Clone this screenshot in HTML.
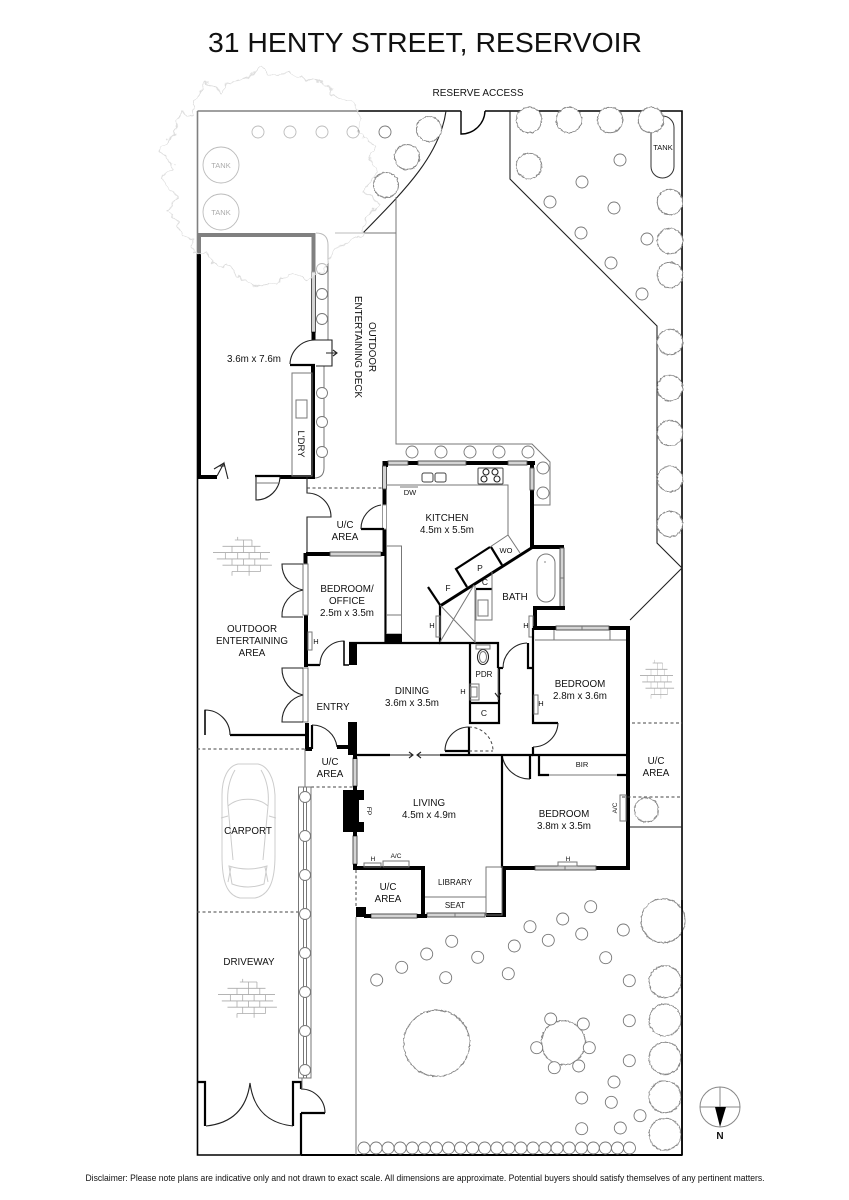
<!DOCTYPE html>
<html><head><meta charset="utf-8"><style>
html,body{margin:0;padding:0;background:#fff}
svg{display:block}
text{font-family:"Liberation Sans",sans-serif;fill:#111;text-anchor:middle}
.l{font-size:9.8px}.s{font-size:7.5px}.m{font-size:8.5px}
.t{fill:none;stroke:#222;stroke-width:1.1}
.g{fill:none;stroke:#777;stroke-width:1}
.k{fill:none;stroke:#000;stroke-width:2.2}
.w{fill:none;stroke:#000;stroke-width:4}
.d{fill:none;stroke:#444;stroke-width:1;stroke-dasharray:3 2.5}
.win{fill:#d4d4d4;stroke:#444;stroke-width:.9}
.c{fill:#fff;stroke:#777;stroke-width:.9}
.tr{fill:#fff;stroke:#888;stroke-width:1;filter:url(#rough)}
.b{fill:none;stroke:#aaa;stroke-width:.8}
.car{fill:none;stroke:#ccc;stroke-width:1}
</style></head><body>
<svg width="849" height="1200" viewBox="0 0 849 1200" xmlns="http://www.w3.org/2000/svg">
<defs>
<filter id="rough" x="-20%" y="-20%" width="140%" height="140%"><feTurbulence type="fractalNoise" baseFrequency="0.35" numOctaves="2" seed="3" result="n"/><feDisplacementMap in="SourceGraphic" in2="n" scale="2.4" xChannelSelector="R" yChannelSelector="G"/></filter>
<filter id="rough2" x="-10%" y="-10%" width="120%" height="120%"><feTurbulence type="fractalNoise" baseFrequency="0.12" numOctaves="2" seed="5" result="n"/><feDisplacementMap in="SourceGraphic" in2="n" scale="9" xChannelSelector="R" yChannelSelector="G"/></filter>
<g id="brick">
<path class="b" d="M23 0H41M10 6H50M0 12H60M4 18H58M10 24H62M20 30H50M26-3V0M32 0V6M41 0V6M20 6V12M32 6V12M44 6V12M13 12V18M26 12V18M38 12V18M50 12V18M20 18V24M32 18V24M44 18V24M26 24V30M38 24V30M50 24V30M20 30V34M38 30V34"/>
</g>
</defs>

<text x="425" y="52" style="font-size:28px" textLength="434" lengthAdjust="spacingAndGlyphs">31 HENTY STREET, RESERVOIR</text>
<text x="478" y="96" class="l" style="font-size:10px" textLength="91" lengthAdjust="spacingAndGlyphs">RESERVE ACCESS</text>

<!-- site -->
<path d="M197.5 111V1155H301M301 1155H682V111H485M461 111H197.5" fill="none" stroke="#000" stroke-width="1.6"/>
<path d="M301 1155H682" fill="none" stroke="#000" stroke-width="2"/>
<path class="k" d="M461 111V134A24 24 0 0 0 485 111" style="stroke-width:1.4"/>

<!-- zones -->
<path class="t" d="M510 111V179L657 326V543L682 568L630 620"/>
<path class="t" d="M446 111C440 155 405 190 363 233"/>
<path class="g" d="M396 197V444H532L550 462V505H533"/>
<path class="g" d="M335 233H396"/>

<!-- top-left circles -->
<g>
<circle class="c" cx="258" cy="132" r="6"/><circle class="c" cx="290" cy="132" r="6"/><circle class="c" cx="322" cy="132" r="6"/><circle class="c" cx="353" cy="132" r="6"/><circle class="c" cx="385" cy="132" r="6"/>
<circle class="tr" cx="429" cy="129" r="12.5"/><circle class="tr" cx="407" cy="157" r="12.5"/><circle class="tr" cx="386" cy="185" r="12.5"/>
<circle class="c" cx="221" cy="165" r="18"/><circle class="c" cx="221" cy="212" r="18"/>
</g>
<text x="221" y="168" class="s" style="fill:#555">TANK</text>
<text x="221" y="215" class="s" style="fill:#555">TANK</text>

<!-- top-right garden -->
<rect x="651" y="116" width="23" height="62" rx="11.5" fill="#fff" stroke="#333" stroke-width="1"/>
<text x="663" y="150" class="s">TANK</text>
<g>
<circle class="tr" cx="529" cy="120" r="12.7"/><circle class="tr" cx="569" cy="120" r="12.7"/><circle class="tr" cx="610" cy="120" r="12.7"/><circle class="tr" cx="651" cy="120" r="12.7"/><circle class="tr" cx="529" cy="166" r="12.7"/><circle class="tr" cx="670" cy="202" r="12.7"/><circle class="tr" cx="670" cy="241" r="12.7"/><circle class="tr" cx="670" cy="275" r="12.7"/>
<circle class="c" cx="620" cy="160" r="6"/><circle class="c" cx="582" cy="182" r="6"/><circle class="c" cx="550" cy="202" r="6"/><circle class="c" cx="614" cy="208" r="6"/><circle class="c" cx="581" cy="233" r="6"/><circle class="c" cx="647" cy="239" r="6"/><circle class="c" cx="611" cy="263" r="6"/><circle class="c" cx="642" cy="294" r="6"/>
<circle class="tr" cx="670" cy="342" r="12.7"/><circle class="tr" cx="670" cy="388" r="12.7"/><circle class="tr" cx="670" cy="433" r="12.7"/><circle class="tr" cx="670" cy="479" r="12.7"/><circle class="tr" cx="670" cy="524" r="12.7"/>
</g>

<!-- deck planter -->
<path class="g" d="M316 233Q328 233 328 245V340M324 366V468Q324 478 314 478"/>
<circle class="c" cx="322" cy="269" r="5.5"/><circle class="c" cx="322" cy="294" r="5.5"/><circle class="c" cx="322" cy="319" r="5.5"/>
<circle class="c" cx="322" cy="393" r="5.5"/><circle class="c" cx="322" cy="422" r="5.5"/><circle class="c" cx="322" cy="452" r="5.5"/>

<!-- left room walls -->
<path d="M199 253V477H217" class="w"/>
<path d="M199 235V253M197 235H315.500M313.500 233V272" fill="none" stroke="#000" stroke-width="4"/>
<rect x="311.500" y="272" width="4" height="60" class="win"/>
<path d="M313.500 332V340" class="w"/>
<path class="k" d="M290 365H315"/><path class="w" d="M313 364V479M280 477H315"/>
<path class="t" d="M290 364A25 25 0 0 1 315 340H332V366H316"/>
<path class="t" d="M326 353H337M333 350L337 353L333 356"/>
<rect x="292" y="373" width="20" height="103" class="g"/>
<rect x="296" y="400" width="11" height="18" class="g"/>
<text transform="translate(298,444) rotate(90)" class="m" style="font-size:9.5px">L'DRY</text>
<path class="t" d="M214 469L224 463M217 476L224 463L228 479M219 466H225"/>
<path class="k" d="M255 476H280"/>
<path class="t" d="M256 476V500A24 24 0 0 0 280 477"/>
<path class="g" d="M256 483H280"/>

<!-- big tree overlay -->
<g style="filter:url(#rough2)">
<path transform="translate(150,60) scale(.3333)" d="M130 130L165 65L215 95L225 70L280 60L335 20L355 45L420 40L480 60L520 70L560 110L610 130L635 175L625 220L680 260L660 290L680 340L640 400L690 430L650 470L640 520L610 540L560 560L520 630L470 660L420 640L380 670L330 680L280 660L240 620L190 610L170 575L130 580L130 540L100 530L80 480L50 450L85 410L30 355L70 320L30 270L70 225L95 160L135 170Z" fill="#fff" fill-opacity=".5" stroke="#ddd" stroke-width="3" stroke-linejoin="round"/>
</g>

<!-- labels upper -->
<text x="254" y="362" class="l">3.6m x 7.6m</text>
<text transform="translate(369,347) rotate(90)" class="l">OUTDOOR</text>
<text transform="translate(355,347) rotate(90)" class="l">ENTERTAINING DECK</text>

<!-- U/C upper -->
<path class="t" d="M307 477V493A24 24 0 0 1 331 517H307V553"/>
<path class="d" d="M307 488H383"/>
<path class="w" d="M384.500 461V467M384.500 488V505M384.500 529V553"/>
<rect x="382.500" y="466" width="4" height="23" class="win"/>
<rect x="382.500" y="505" width="4" height="24" class="g" style="stroke:#999"/>
<path class="k" d="M361 529H384"/><path class="t" d="M361 529A24 24 0 0 1 381 505"/>
<path class="w" d="M306 554H330"/><rect x="330" y="552" width="51" height="4" class="win"/>
<path class="w" d="M381 554H387"/>
<text x="345" y="528" class="l">U/C</text><text x="345" y="540" class="l">AREA</text>

<!-- brick -->
<use href="#brick" transform="translate(213,540) scale(.95,1.05)"/>
<use href="#brick" transform="translate(640,663) scale(.55,1.05)"/>
<use href="#brick" transform="translate(218,982) scale(.95,1.05)"/>

<!-- office -->
<path class="w" d="M305.500 553V564M306 615V667"/>
<path class="k" d="M385.500 553V643"/>
<rect x="303" y="564" width="5" height="51" fill="#fff" class="g"/>
<path class="t" d="M303 564H282A26 26 0 0 0 303 590A26 26 0 0 0 282 617H303"/>
<rect x="303" y="668" width="5" height="54" fill="#fff" class="g"/>
<path class="t" d="M303 668H282A27 27 0 0 0 303 695A27 27 0 0 0 282 722H303"/>
<rect x="386.500" y="546" width="15" height="88" class="g"/>
<path class="g" d="M386.500 615H401.500"/>
<rect x="386" y="634" width="16" height="10" fill="#000"/>
<rect x="349" y="643" width="8" height="22" fill="#000"/>
<path class="k" d="M306 665H320M349 643H440"/>
<path class="t" d="M320 665A24 24 0 0 1 344 641V665"/><path class="k" d="M344 641V665H349" style="stroke-width:1.5"/>
<rect x="308" y="632" width="4" height="18" class="g" fill="#fff"/>
<text x="316" y="644" class="s">H</text>
<text x="347" y="592" class="l">BEDROOM/</text><text x="347" y="604" class="l">OFFICE</text><text x="347" y="616" class="l">2.5m x 3.5m</text>
<text x="252" y="632" class="l">OUTDOOR</text><text x="252" y="644" class="l">ENTERTAINING</text><text x="252" y="656" class="l">AREA</text>

<!-- outdoor wall lower -->
<path class="k" d="M230 735H306"/><path class="t" d="M205 735V710A25 25 0 0 1 230 735"/><path class="k" d="M205 710V735" style="stroke-width:1.5"/>
<path class="w" d="M307 723V749H312"/>
<path class="k" d="M312 749V725"/><path class="t" d="M312 725A25 25 0 0 1 337 747"/>
<path class="w" d="M337 747H349"/><rect x="348" y="722" width="9" height="33" fill="#000"/>
<text x="333" y="710" class="l">ENTRY</text>
<text x="412" y="694" class="l">DINING</text><text x="412" y="706" class="l">3.6m x 3.5m</text>

<!-- kitchen top -->
<path class="w" d="M383 463H388M408 463H418M466 463H508M527 463H535"/>
<rect x="388" y="461" width="20" height="4" class="win"/><rect x="418" y="461" width="48" height="4" class="win"/><rect x="508" y="461" width="19" height="4" class="win"/>
<path class="w" d="M532 461V468M532 490V549"/>
<rect x="530" y="468" width="4" height="22" class="win"/>
<rect x="386" y="463" width="2" height="4" fill="#000"/>
<path class="g" d="M386 485H508V535"/>
<rect x="422" y="473" width="11" height="9" rx="2" class="g" style="stroke:#444"/><rect x="435" y="473" width="11" height="9" rx="2" class="g" style="stroke:#444"/>
<rect x="478" y="468" width="25" height="16" rx="1" class="g" style="stroke:#444"/>
<circle cx="486" cy="472" r="3" class="t"/><circle cx="495" cy="472" r="3" class="t"/><circle cx="484" cy="479" r="3" class="t"/><circle cx="497" cy="479" r="3" class="t"/>
<path class="g" d="M400 487H418"/><text x="410" y="495" class="s">DW</text>
<circle class="c" cx="412" cy="452" r="6"/><circle class="c" cx="441" cy="452" r="6"/><circle class="c" cx="470" cy="452" r="6"/><circle class="c" cx="499" cy="452" r="6"/><circle class="c" cx="528" cy="452" r="6"/><circle class="c" cx="543" cy="468" r="6"/><circle class="c" cx="543" cy="493" r="6"/>
<text x="447" y="521" class="l">KITCHEN</text><text x="447" y="533" class="l">4.5m x 5.5m</text>

<!-- pantry, bath -->
<path class="g" d="M508 535L490 547"/>
<path class="k" d="M490 547L456 569L467 587M491 547L502 565"/>
<path class="g" d="M508 535L520 553"/>
<path class="w" d="M533 547L440 606" style="stroke-width:3"/>
<path class="k" d="M440 605L428 587"/>
<text x="506" y="553" class="s">WO</text><text x="480" y="571" class="m">P</text><text x="448" y="591" class="m">F</text>
<path class="w" d="M530 547H564"/>
<rect x="560" y="548" width="4" height="60" class="win"/>
<path class="g" d="M560 578H564"/>
<path class="w" d="M563 606V608H535V630"/>
<rect x="537" y="554" width="18" height="48" rx="9" class="g"/>
<circle cx="545" cy="562" r=".6" fill="#333"/>
<text x="515" y="600" class="l">BATH</text>
<path class="k" d="M440 605V643H498V668M470 643V723H499V668"/>
<path class="g" d="M475 585V643M440 605L475 642M474 585L440 642"/>
<path class="k" d="M476 589H492" /><path class="g" d="M492 572V620H476V590"/>
<rect x="478" y="600" width="10" height="16" class="g"/>
<text x="485" y="585" class="m">C</text>
<rect x="436" y="616" width="4" height="21" fill="#fff" class="g"/><text x="432" y="628" class="s">H</text>
<rect x="529" y="616" width="4" height="21" fill="#fff" class="g"/><text x="526" y="628" class="s">H</text>
<ellipse cx="483" cy="657" rx="5.500" ry="7.500" class="t"/><ellipse cx="483" cy="657" rx="3.500" ry="5.500" class="g"/>
<rect x="476" y="645" width="14" height="4" class="g"/>
<text x="484" y="677" class="s" style="font-size:8px">PDR</text>
<rect x="470" y="684" width="9" height="16" fill="#fff" class="g"/><rect x="471" y="687" width="6" height="10" class="g"/>
<text x="463" y="694" class="s">H</text>
<path class="k" d="M469 703H499"/><text x="484" y="716" class="m">C</text>
<path class="g" d="M498 668V700"/><path class="t" d="M495 693L498 697L501 693"/>
<path class="k" d="M498 668H503"/>
<path class="t" d="M503 668A25 25 0 0 1 527 643"/>
<path class="k" d="M528 643V668H533"/>

<!-- bedroom 2.8 -->
<path class="w" d="M533 628H556M609 628H630M628 626V870"/>
<rect x="556" y="626" width="53" height="4" class="win"/><path class="g" d="M582 626V630"/>
<path class="k" d="M533 628V723H558M533 747V755H627M530 755V779"/>
<path class="t" d="M558 723A25 25 0 0 1 533 747"/>
<path class="t" d="M502 755A28 28 0 0 0 530 779"/>
<path class="g" d="M535 640H626M554 630V640M610 630V640"/>
<rect x="534" y="695" width="4" height="19" class="g"/><text x="541" y="706" class="s">H</text>
<text x="580" y="687" class="l">BEDROOM</text><text x="580" y="699" class="l">2.8m x 3.6m</text>
<path class="k" d="M539 755V775H549M617 775H627"/><path class="g" d="M549 775H617"/>
<text x="582" y="767" class="s">BIR</text>

<!-- dining/living border -->
<path class="k" d="M357 755H390"/><path class="t" d="M390 755H412M409 752L413 755L409 758M418 755H440M421 752L417 755L421 758"/>
<path class="k" d="M440 755H533M502 755V868M445 751H469V727M469 751V755"/>
<path class="t" d="M445 751A24 24 0 0 1 469 727"/>
<path class="d" d="M469 727A24 24 0 0 1 493 751M469 751H493"/>

<!-- U/C lower-left, living -->
<path class="g" d="M305 749V787"/>
<path class="d" d="M197 749H305M311 787H355M197 912H298M632 723H682M622 797H682M356 870V907"/>
<text x="330" y="765" class="l">U/C</text><text x="330" y="777" class="l">AREA</text>
<rect x="353" y="758" width="4" height="28" class="win"/><rect x="353" y="836" width="4" height="28" class="win"/>
<path class="w" d="M355 755V759M355 786V792M355 830V836M355 864V870"/>
<rect x="343" y="790" width="21" height="42" fill="#000"/><rect x="359" y="800" width="5" height="22" fill="#fff"/>
<text transform="translate(367,811) rotate(90)" class="s" style="font-size:6.5px">FP</text>
<text x="429" y="806" class="l">LIVING</text><text x="429" y="818" class="l">4.5m x 4.9m</text>
<path class="w" d="M353 868H425M423 866V917M502 868H535M596 868H630M504 866V917M486 915H506"/>
<rect x="364" y="863" width="17" height="4" class="g"/><rect x="383" y="861" width="26" height="6" class="g"/>
<text x="373" y="861" class="s" style="font-size:6.500px">H</text><text x="396" y="858" class="s" style="font-size:6.500px">A/C</text>
<rect x="486" y="867" width="16" height="48" class="g"/><path class="g" d="M425 897H486"/>
<text x="455" y="885" class="s" style="font-size:8px">LIBRARY</text><text x="455" y="908" class="s" style="font-size:8px">SEAT</text>
<text x="388" y="890" class="l">U/C</text><text x="388" y="902" class="l">AREA</text>
<rect x="427" y="913" width="58" height="4" class="win"/><rect x="371" y="914" width="46" height="4" class="win"/><rect x="535" y="866" width="61" height="4" class="win"/>
<path class="g" d="M455 913V917M565 866V870"/>
<rect x="356" y="907" width="10" height="10" fill="#000"/><path class="w" d="M364 916H371M417 916H427"/>
<path class="g" d="M356 917V1155"/>
<rect x="558" y="862" width="19" height="4" class="g"/><text x="568" y="861" class="s" style="font-size:6.500px">H</text>
<text x="564" y="817" class="l">BEDROOM</text><text x="564" y="829" class="l">3.8m x 3.5m</text>
<text x="656" y="764" class="l">U/C</text><text x="656" y="776" class="l">AREA</text>
<path class="t" d="M630 827H682"/>
<rect x="620" y="795" width="6" height="26" fill="#fff" class="g"/>
<text transform="translate(617,808) rotate(-90)" class="s" style="font-size:6.500px">A/C</text>
<circle class="tr" cx="646.500" cy="810" r="12"/>

<!-- carport -->
<path class="car" d="M238 764H258C268 766 274 778 275 795V855C275 880 270 895 255 898H240C226 895 222 880 222 855V795C222 778 228 766 238 764Z"/>
<path class="car" d="M228 806C238 797 258 797 268 806L263 860M228 806L233 860M235 770Q226 785 228 806M261 770Q270 785 268 806M229 866Q248 872 267 866L264 884Q248 890 232 884ZM221 818L228 816M276 818L269 816M231 867L228 882M265 867L268 882"/>
<text x="248" y="834" class="l">CARPORT</text>
<text x="249" y="965" class="l">DRIVEWAY</text>

<!-- planter strip -->
<rect x="298.500" y="787" width="12.500" height="291" class="g"/>
<path class="g" d="M303.500 787V1078M306.500 787V1078"/>
<circle class="c" cx="305" cy="797" r="5.500"/><circle class="c" cx="305" cy="836" r="5.500"/><circle class="c" cx="305" cy="875" r="5.500"/><circle class="c" cx="305" cy="914" r="5.500"/><circle class="c" cx="305" cy="953" r="5.500"/><circle class="c" cx="305" cy="992" r="5.500"/><circle class="c" cx="305" cy="1031" r="5.500"/><circle class="c" cx="305" cy="1070" r="5.500"/>

<!-- gates -->
<path class="k" d="M197 1082H205V1126M293 1126V1082H301V1089M301 1113V1155M301 1113H325"/>
<path class="t" d="M206 1126Q245 1122 250 1083Q255 1122 293 1126"/>
<path class="t" d="M301 1089A24 24 0 0 1 325 1113"/>
<path class="g" d="M302 1078V1089"/>

<!-- garden -->
<g>
<circle class="c" cx="590.700" cy="906.700" r="6"/><circle class="c" cx="562.700" cy="919" r="6"/><circle class="c" cx="530" cy="926.700" r="6"/><circle class="c" cx="548.300" cy="940.300" r="6"/><circle class="c" cx="581.700" cy="934" r="6"/><circle class="c" cx="623.300" cy="930" r="6"/><circle class="c" cx="514.300" cy="946" r="6"/><circle class="c" cx="605.700" cy="957.700" r="6"/><circle class="c" cx="451.700" cy="941.300" r="6"/><circle class="c" cx="426.700" cy="954" r="6"/><circle class="c" cx="401.700" cy="967.300" r="6"/><circle class="c" cx="376.700" cy="980" r="6"/><circle class="c" cx="477.700" cy="957.300" r="6"/><circle class="c" cx="445.700" cy="977.700" r="6"/><circle class="c" cx="508.300" cy="973.700" r="6"/><circle class="c" cx="629.300" cy="980.700" r="6"/><circle class="c" cx="629.300" cy="1020.700" r="6"/><circle class="c" cx="629.300" cy="1060.700" r="6"/><circle class="c" cx="614" cy="1082" r="6"/><circle class="c" cx="581.700" cy="1098" r="6"/><circle class="c" cx="611.300" cy="1102.300" r="6"/><circle class="c" cx="640" cy="1115.700" r="6"/><circle class="c" cx="620.300" cy="1128" r="6"/><circle class="c" cx="581.700" cy="1128.700" r="6"/>
<circle class="tr" cx="563.300" cy="1042.700" r="22"/>
<circle class="c" cx="550.700" cy="1019" r="6"/><circle class="c" cx="583.300" cy="1024" r="6"/><circle class="c" cx="589.300" cy="1047.700" r="6"/><circle class="c" cx="536.700" cy="1047.700" r="6"/><circle class="c" cx="554.300" cy="1067.700" r="6"/><circle class="c" cx="578.700" cy="1066" r="6"/>
<circle class="tr" cx="436.700" cy="1043.300" r="33"/>
<circle class="tr" cx="663" cy="920.700" r="22"/>
<circle class="tr" cx="665" cy="981.700" r="16"/><circle class="tr" cx="665" cy="1020" r="16"/><circle class="tr" cx="665" cy="1058.300" r="16"/><circle class="tr" cx="665" cy="1096.700" r="16"/><circle class="tr" cx="665" cy="1134.300" r="16"/>
<circle class="c" cx="364" cy="1148" r="6"/><circle class="c" cx="376.100" cy="1148" r="6"/><circle class="c" cx="388.100" cy="1148" r="6"/><circle class="c" cx="400.200" cy="1148" r="6"/><circle class="c" cx="412.300" cy="1148" r="6"/><circle class="c" cx="424.400" cy="1148" r="6"/><circle class="c" cx="436.400" cy="1148" r="6"/><circle class="c" cx="448.500" cy="1148" r="6"/><circle class="c" cx="460.600" cy="1148" r="6"/><circle class="c" cx="472.600" cy="1148" r="6"/><circle class="c" cx="484.700" cy="1148" r="6"/><circle class="c" cx="496.800" cy="1148" r="6"/><circle class="c" cx="508.800" cy="1148" r="6"/><circle class="c" cx="520.900" cy="1148" r="6"/><circle class="c" cx="533" cy="1148" r="6"/><circle class="c" cx="545" cy="1148" r="6"/><circle class="c" cx="557.100" cy="1148" r="6"/><circle class="c" cx="569.200" cy="1148" r="6"/><circle class="c" cx="581.300" cy="1148" r="6"/><circle class="c" cx="593.300" cy="1148" r="6"/><circle class="c" cx="605.400" cy="1148" r="6"/><circle class="c" cx="617.500" cy="1148" r="6"/><circle class="c" cx="629.500" cy="1148" r="6"/>
</g>
<path d="M682 900V1155" stroke="#000" stroke-width="1.600" fill="none"/>

<!-- compass -->
<circle cx="720" cy="1107" r="20" fill="none" stroke="#888" stroke-width="1"/>
<path d="M700 1107H740M720 1087V1107" stroke="#888" stroke-width="1" fill="none"/>
<path d="M715 1107H726L720 1127Z" fill="#000"/>
<text x="720" y="1139" style="font-size:10px;font-weight:bold">N</text>

<text x="425" y="1181" style="font-size:9.300px" textLength="679" lengthAdjust="spacingAndGlyphs">Disclaimer: Please note plans are indicative only and not drawn to exact scale. All dimensions are approximate. Potential buyers should satisfy themselves of any pertinent matters.</text>
</svg>
</body></html>
